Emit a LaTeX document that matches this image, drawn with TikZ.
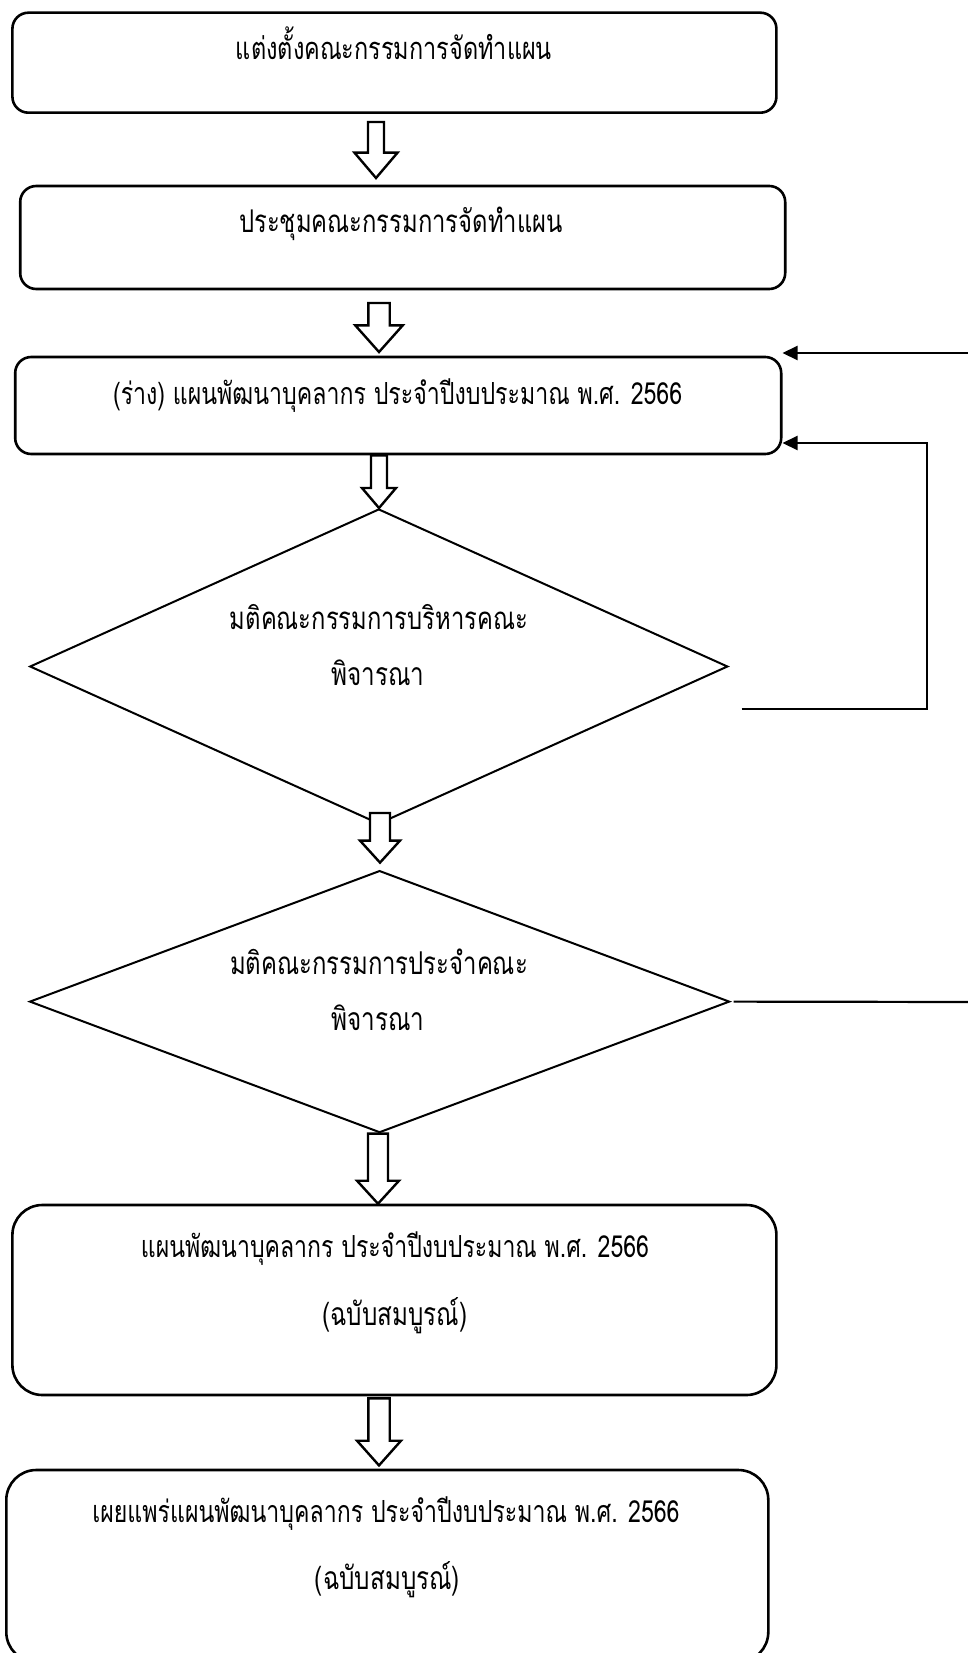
\documentclass[tikz,border=0pt]{standalone}
\usepackage{graphicx}
\usepackage{fontspec}
\newfontfamily\thaifont[Script=Thai,FakeStretch=0.76]{Loma}
\usetikzlibrary{shapes.geometric,arrows.meta,calc}
\newcommand\tx[2]{\resizebox{#1pt}{!}{\thaifont #2}}
\newcommand\blockarrow[5]{%
  \coordinate (bt) at (#1);
  \coordinate (bp) at (#2);
  \draw[blk] ($(bt)+(-#3,0)$) -- ($(bp)+(-#3,-#5)$) -- ($(bp)+(-#4,-#5)$) -- (bp)
    -- ($(bp)+(#4,-#5)$) -- ($(bp)+(#3,-#5)$) -- ($(bt)+(#3,0)$) -- cycle;}
\tikzset{
  rbox/.style={draw, line width=2.6pt, rounded corners=16pt, inner sep=0pt},
  bigbox/.style={rbox, rounded corners=30pt},
  dec/.style={draw, diamond, line width=2pt, inner sep=0pt},
  lbl/.style={anchor=base, inner sep=0pt},
  blk/.style={draw, fill=white, line width=2.4pt, line join=miter},
  fb/.style={line width=2.2pt},
  fbarrow/.style={fb, -{Triangle[length=15pt,width=14pt]}}
}
\begin{document}
\begin{tikzpicture}[x=1pt,y=-1pt]
\useasboundingbox (0,0) rectangle (968,1653);
\clip (0,0) rectangle (968,1653);
\fill[white] (0,0) rectangle (968,1653);

% boxes
\node[rbox, minimum width=764pt, minimum height=100pt] (b1) at (394.4,62.7) {};
\node[rbox, minimum width=765pt, minimum height=103pt] (b2) at (402.7,237.5) {};
\node[rbox, minimum width=766pt, minimum height=97pt] (b3) at (398.2,405.5) {};
\node[dec, minimum width=698pt, minimum height=315pt] (d1) at (378.8,666.5) {};
\node[dec, minimum width=700pt, minimum height=262pt] (d2) at (379.6,1001.6) {};
\node[bigbox, minimum width=764pt, minimum height=190pt] (b5) at (394.4,1300) {};
\node[bigbox, minimum width=762pt, minimum height=192pt] (b6) at (387.3,1566) {};

% texts
\node[lbl] (t1) at (394,60) {\tx{316}{แต่งตั้งคณะกรรมการจัดทำแผน}};
\node[lbl] (t2) at (401,233) {\tx{323.5}{ประชุมคณะกรรมการจัดทำแผน}};
\node[lbl] (t3) at (397.6,404) {\tx{569}{(ร่าง) แผนพัฒนาบุคลากร ประจำปีงบประมาณ พ.ศ. 2566}};
\node[lbl] (t4a) at (379,629.5) {\tx{298}{มติคณะกรรมการบริหารคณะ}};
\node[lbl] (t4b) at (378,685) {\tx{93}{พิจารณา}};
\node[lbl] (t5a) at (379,974.5) {\tx{298}{มติคณะกรรมการประจำคณะ}};
\node[lbl] (t5b) at (378,1030) {\tx{93}{พิจารณา}};
\node[lbl] (t6a) at (395,1257) {\tx{508}{แผนพัฒนาบุคลากร ประจำปีงบประมาณ พ.ศ. 2566}};
\node[lbl] (t6b) at (394.7,1325) {\tx{145}{(ฉบับสมบูรณ์)}};
\node[lbl] (t7a) at (386,1522) {\tx{587}{เผยแพร่แผนพัฒนาบุคลากร ประจำปีงบประมาณ พ.ศ. 2566}};
\node[lbl] (t7b) at (387.5,1589) {\tx{145}{(ฉบับสมบูรณ์)}};

% block arrows
\coordinate (x1) at (376,0);
\coordinate (x2) at (379,0);
\coordinate (x3) at (379,0);
\coordinate (x4) at (380,0);
\coordinate (x5) at (378,0);
\coordinate (x6) at (379,0);
\blockarrow{$(x1 |- b1.south)+(0,8)$}{$(x1 |- b2.north)+(0,-6.7)$}{8}{21.5}{25.3}
\blockarrow{$(x2 |- b2.south)+(0,12.7)$}{$(x2 |- b3.north)+(0,-3.7)$}{10.7}{23.7}{26.6}
\blockarrow{$(x3 |- b3.south)$}{$(x3 |- d1.north)$}{8}{17}{20}
\blockarrow{$(x4 |- d1.south)+(0,-12)$}{$(x4 |- d2.north)+(0,-7)$}{10}{20}{22}
\blockarrow{$(x5 |- d2.south)$}{$(x5 |- b5.north)$}{10}{21}{23}
\blockarrow{$(x6 |- b5.south)+(0,2)$}{$(x6 |- b6.north)+(0,-3.3)$}{10.7}{22}{24.7}

% feedback connectors
\coordinate (f1s) at (741.7,708.6);
\coordinate (f1c) at (927,443);
\draw[fbarrow] (f1s) -| (f1c) -- (f1c -| b3.east);
\coordinate (f2s) at (975,353);
\draw[fbarrow] (f2s) -- (f2s -| b3.east);
\coordinate (f3e) at (975,1002);
\draw[fb] ($(d2.east)+(3,0)$) -- (f3e);
\end{tikzpicture}
\end{document}
